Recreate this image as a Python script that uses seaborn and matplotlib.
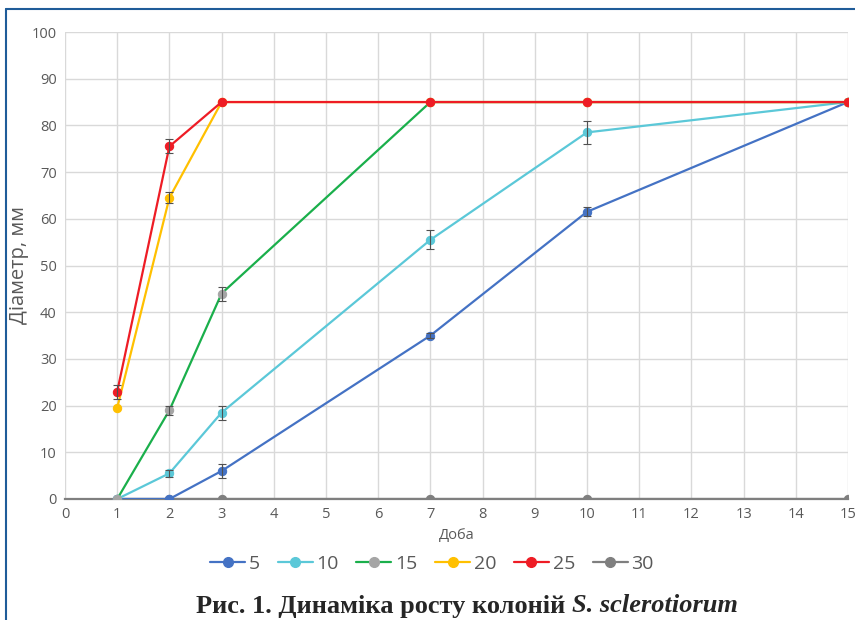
import numpy as np
import pandas as pd
import matplotlib
matplotlib.use('Agg')
import matplotlib.pyplot as plt
import seaborn as sns
from matplotlib.lines import Line2D

days = [1, 2, 3, 7, 10, 15]
labels = ['5', '10', '15', '20', '25', '30']

d5 = [0, 0, 6, 35, 61.5, 85]
d10 = [0, 5.5, 18.5, 55.5, 78.5, 85]
d15 = [0, 19, 44, 85, 85, 85]
d20 = [19.5, 64.5, 85, 85, 85, 85]
d25 = [23, 75.5, 85, 85, 85, 85]
d30 = [0, 0, 0, 0, 0, 0]

e5 = [0, 0, 1.5, 0.5, 1, 0]
e10 = [0, 0.8, 1.5, 2, 2.5, 0]
e15 = [0, 1, 1.5, 0, 0, 0]
e20 = [0, 1.2, 0, 0, 0, 0]
e25 = [1.5, 1.5, 0, 0, 0, 0]
e30 = [0, 0, 0, 0, 0, 0]

line_colors = ['#4472C4', '#5BC8D8', '#1AAF4B', '#FFC000', '#EE1C25', '#7F7F7F']
marker_colors = ['#4472C4', '#5BC8D8', '#A5A5A5', '#FFC000', '#EE1C25', '#7F7F7F']

series = [d5, d10, d15, d20, d25, d30]
errors = [e5, e10, e15, e20, e25, e30]

sns.set_style('white')
plt.rcParams['font.family'] = ['Open Sans', 'DejaVu Sans']

fig = plt.figure(figsize=(8.55, 6.2), dpi=100)
ax = fig.add_axes([65/855, 1-499/620, (848-65)/855, (499-32)/620])

# 30 first so it sits under the rest
order = [5, 0, 1, 2, 3, 4]
for i in order:
    df = pd.DataFrame({'x': days, 'y': series[i]})
    sns.lineplot(data=df, x='x', y='y', ax=ax, color=line_colors[i], lw=1.6,
                 marker='o', markersize=6, markerfacecolor=marker_colors[i],
                 markeredgecolor=marker_colors[i], zorder=3 + order.index(i))
    err = np.array(errors[i])
    m = err > 0
    if m.any():
        ax.errorbar(np.array(days)[m], np.array(series[i])[m], yerr=err[m], fmt='none',
                    ecolor='#505050', elinewidth=0.8, capsize=3, capthick=0.8, zorder=10)

ax.set_xlim(0, 15)
ax.set_ylim(0, 100)
ax.set_xticks(range(0, 16))
ax.set_yticks(range(0, 101, 10))
ax.grid(True, color='#D9D9D9', lw=1)
for s in ['top', 'right', 'left']:
    ax.spines[s].set_visible(False)
ax.spines['bottom'].set_color('#7F7F7F')
ax.spines['bottom'].set_linewidth(1.6)
ax.spines['bottom'].set_zorder(2)
ax.tick_params(axis='both', length=0, labelsize=10.5, colors='#595959', pad=6)
ax.set_xlabel('Доба', fontsize=10.5, color='#595959', labelpad=4)
ax.set_ylabel('Діаметр, мм', fontsize=14.5, color='#595959', labelpad=2)

handles = [Line2D([0], [0], color=line_colors[i], lw=1.6, marker='o', markersize=7,
                  markerfacecolor=marker_colors[i], markeredgecolor=marker_colors[i])
           for i in range(6)]
fig.legend(handles, labels, loc='center', bbox_to_anchor=(432/855, 1-564/620), ncol=6,
           frameon=False, fontsize=14, handlelength=1.8, handletextpad=0.2,
           columnspacing=0.9, labelcolor='#595959')

# caption: bold part + bold italic species name, centred together
cy = 1 - 606/620
t1 = fig.text(0, cy, 'Рис. 1. Динаміка росту колоній ', ha='left', va='center',
              fontsize=19, fontweight='bold', family='Liberation Serif')
t2 = fig.text(0, cy, 'S. sclerotiorum', ha='left', va='center',
              fontsize=19, fontweight='bold', style='italic', family='Liberation Serif')
r = fig.canvas.get_renderer()
w1 = t1.get_window_extent(r).width
w2 = t2.get_window_extent(r).width
x0 = 467 - (w1 + w2) / 2
t1.set_x(x0 / 855)
t2.set_x((x0 + w1) / 855)

fig.add_artist(Line2D([6/855, 6/855], [0, 1-9/620], color='#1F5C99', lw=1.5))
fig.add_artist(Line2D([6/855, 1], [1-9/620, 1-9/620], color='#1F5C99', lw=1.5))

fig.savefig('out.png', dpi=100)
